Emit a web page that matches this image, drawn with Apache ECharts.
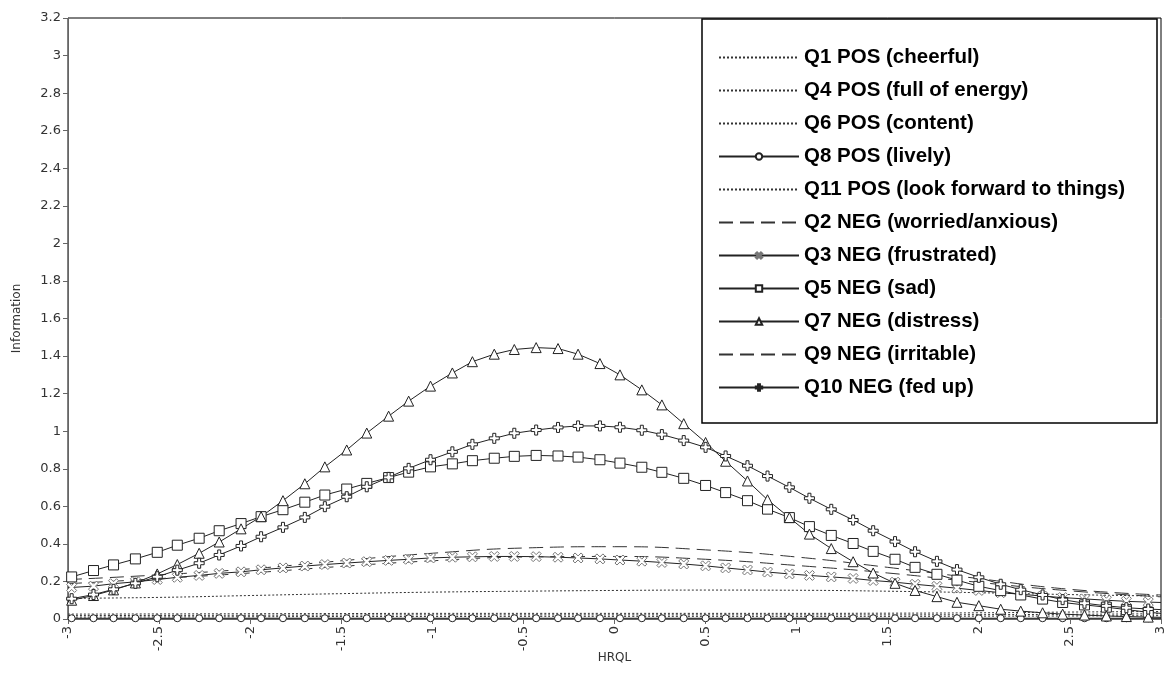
<!DOCTYPE html>
<html>
<head>
<meta charset="utf-8">
<title>Information by HRQL</title>
<script src="https://cdn.jsdelivr.net/npm/echarts@6/dist/echarts.min.js"></script>
<style>
  html, body { margin: 0; padding: 0; background: #fff; }
  #main { width: 1172px; height: 677px; }
</style>
</head>
<body>
<div id="main"></div>
<script>
// HRQL values where the markers sit (first and last entries are the axis ends, drawn without marker)
var thetaMarks = [-3, -2.98, -2.86, -2.75, -2.63, -2.51, -2.40, -2.28, -2.17, -2.05, -1.94,
  -1.82, -1.70, -1.59, -1.47, -1.36, -1.24, -1.13, -1.01, -0.89, -0.78,
  -0.66, -0.55, -0.43, -0.31, -0.20, -0.08, 0.03, 0.15, 0.26, 0.38,
  0.50, 0.61, 0.73, 0.84, 0.96, 1.07, 1.19, 1.31, 1.42, 1.54,
  1.65, 1.77, 1.88, 2.00, 2.12, 2.23, 2.35, 2.46, 2.58, 2.70,
  2.81, 2.93, 3]
// HRQL values for the plain dashed / dotted curves
var thetaCoarse = [-3, -2.5, -2, -1.5, -1, -0.5, 0, 0.5, 1, 1.5, 2, 2.5, 3]

// item information, marker series
var q7Distress = [0.097, 0.100, 0.125, 0.155, 0.192, 0.24, 0.29, 0.35, 0.41, 0.48, 0.545,
  0.63, 0.72, 0.81, 0.90, 0.99, 1.08, 1.16, 1.24, 1.31, 1.37,
  1.41, 1.435, 1.445, 1.44, 1.41, 1.36, 1.30, 1.22, 1.14, 1.04,
  0.94, 0.84, 0.735, 0.635, 0.54, 0.452, 0.375, 0.305, 0.245, 0.19,
  0.152, 0.119, 0.089, 0.071, 0.052, 0.042, 0.033, 0.026, 0.021, 0.016,
  0.013, 0.010, 0.009]
var q5Sad = [0.218, 0.224, 0.258, 0.288, 0.32, 0.355, 0.393, 0.43, 0.47, 0.508, 0.545,
  0.582, 0.622, 0.66, 0.692, 0.722, 0.753, 0.782, 0.81, 0.826, 0.843,
  0.856, 0.866, 0.871, 0.868, 0.862, 0.848, 0.83, 0.808, 0.781, 0.749,
  0.711, 0.673, 0.63, 0.585, 0.54, 0.492, 0.445, 0.402, 0.36, 0.318,
  0.275, 0.238, 0.207, 0.174, 0.151, 0.128, 0.106, 0.088, 0.075, 0.063,
  0.05, 0.036, 0.03]
var q10FedUp = [0.10, 0.108, 0.13, 0.158, 0.19, 0.225, 0.26, 0.297, 0.341, 0.389, 0.438,
  0.488, 0.541, 0.598, 0.651, 0.704, 0.754, 0.802, 0.848, 0.89, 0.93,
  0.962, 0.989, 1.006, 1.02, 1.028, 1.028, 1.021, 1.005, 0.982, 0.95,
  0.914, 0.868, 0.816, 0.761, 0.701, 0.643, 0.584, 0.527, 0.47, 0.412,
  0.358, 0.307, 0.263, 0.222, 0.185, 0.156, 0.128, 0.103, 0.084, 0.07,
  0.06, 0.053, 0.05]
var q3Frustrated = [0.166, 0.168, 0.175, 0.188, 0.198, 0.21, 0.222, 0.232, 0.243, 0.251, 0.262,
  0.272, 0.282, 0.29, 0.298, 0.305, 0.312, 0.318, 0.325, 0.329, 0.331,
  0.333, 0.333, 0.332, 0.329, 0.325, 0.32, 0.314, 0.308, 0.301, 0.293,
  0.283, 0.272, 0.261, 0.25, 0.24, 0.232, 0.224, 0.216, 0.205, 0.196,
  0.185, 0.174, 0.164, 0.152, 0.14, 0.132, 0.122, 0.114, 0.107, 0.1,
  0.094, 0.09, 0.088]
var q8Lively = [0.004, 0.004, 0.004, 0.004, 0.004, 0.004, 0.004, 0.004, 0.004, 0.004, 0.004,
  0.004, 0.004, 0.004, 0.004, 0.004, 0.004, 0.004, 0.004, 0.004, 0.004,
  0.004, 0.004, 0.004, 0.004, 0.004, 0.004, 0.004, 0.004, 0.004, 0.004,
  0.004, 0.004, 0.004, 0.004, 0.004, 0.004, 0.004, 0.004, 0.004, 0.004,
  0.004, 0.004, 0.004, 0.004, 0.004, 0.004, 0.004, 0.004, 0.004, 0.004,
  0.004, 0.004, 0.004]

// item information, plain line series
var q2Worried = [0.21, 0.235, 0.267, 0.31, 0.35, 0.378, 0.385, 0.368, 0.33, 0.275, 0.215, 0.158, 0.128]
var q9Irritable = [0.188, 0.215, 0.245, 0.28, 0.31, 0.33, 0.333, 0.318, 0.285, 0.245, 0.195, 0.15, 0.118]
var q6Content = [0.11, 0.115, 0.125, 0.135, 0.143, 0.148, 0.152, 0.154, 0.153, 0.148, 0.14, 0.13, 0.122]
var q1Cheerful = [0.018, 0.019, 0.02, 0.021, 0.022, 0.022, 0.022, 0.022, 0.022, 0.022, 0.023, 0.025, 0.028]
var q4Energy = [0.01, 0.011, 0.012, 0.013, 0.013, 0.014, 0.014, 0.014, 0.014, 0.014, 0.015, 0.016, 0.018]
var q11Forward = [0.026, 0.027, 0.028, 0.029, 0.03, 0.03, 0.03, 0.03, 0.03, 0.031, 0.033, 0.037, 0.04]

var legendNames = ['Q1 POS (cheerful)', 'Q4 POS (full of energy)', 'Q6 POS (content)', 'Q8 POS (lively)',
  'Q11 POS (look forward to things)', 'Q2 NEG (worried/anxious)', 'Q3 NEG (frustrated)', 'Q5 NEG (sad)',
  'Q7 NEG (distress)', 'Q9 NEG (irritable)', 'Q10 NEG (fed up)']

// outlined marker shapes
var crossPath = 'path://M0,2 L2,0 L5,3 L8,0 L10,2 L7,5 L10,8 L8,10 L5,7 L2,10 L0,8 L3,5 Z'
var plusPath = 'path://M3.5,0 L6.5,0 L6.5,3.5 L10,3.5 L10,6.5 L6.5,6.5 L6.5,10 L3.5,10 L3.5,6.5 L0,6.5 L0,3.5 L3.5,3.5 Z'

function pairs (xs, ys) {
  return xs.map(function (x, i) { return [x, ys[i]] })
}

function markerSeries (name, ys, symbol, size, stroke) {
  return {
    name: name,
    type: 'line',
    data: pairs(thetaMarks, ys),
    symbol: symbol,
    symbolSize: function (v) { return Math.abs(v[0]) === 3 ? 0 : size },
    color: '#222',
    lineStyle: { color: '#222', width: 1 },
    itemStyle: { color: '#fff', borderColor: stroke, borderWidth: 1 },
    silent: true,
    z: 2
  }
}

// no markers: the symbol is kept only so that the legend icon is an invisible one
function plainSeries (name, ys, dash) {
  return {
    name: name,
    type: 'line',
    data: pairs(thetaCoarse, ys),
    smooth: true,
    symbol: 'circle',
    showSymbol: false,
    color: '#333',
    lineStyle: { color: '#333', width: 1, type: dash },
    itemStyle: { color: 'rgba(0,0,0,0)', borderWidth: 0 },
    silent: true,
    z: 2
  }
}

var dotted = [2, 2]
var dashed = [14, 7]

var axisFont = { fontFamily: 'DejaVu Sans', fontSize: 13, color: '#333' }

var option = {
  animation: false,
  backgroundColor: '#fff',
  grid: {
    left: 68, right: 11, top: 18, bottom: 58,
    outerBoundsMode: 'none',
    containLabel: false,
    show: true, borderColor: '#000', borderWidth: 1
  },
  xAxis: {
    type: 'value',
    min: -3,
    max: 3,
    interval: 0.5,
    name: 'HRQL',
    nameLocation: 'middle',
    nameGap: 33,
    nameMoveOverlap: false,
    nameTextStyle: { fontFamily: 'DejaVu Sans', fontSize: 12, color: '#333' },
    axisLine: { onZero: false, lineStyle: { color: '#666' } },
    axisTick: { length: 5, lineStyle: { color: '#666' } },
    axisLabel: Object.assign({ rotate: 90, margin: 7 }, axisFont),
    splitLine: { show: false }
  },
  yAxis: {
    type: 'value',
    min: 0,
    max: 3.2,
    interval: 0.2,
    name: 'Information',
    nameLocation: 'middle',
    nameGap: 45,
    nameMoveOverlap: false,
    nameTextStyle: { fontFamily: 'DejaVu Sans', fontSize: 12, color: '#333' },
    axisLine: { show: true, onZero: false, lineStyle: { color: '#666' } },
    axisTick: { show: true, length: 5, lineStyle: { color: '#666' } },
    axisLabel: Object.assign({ margin: 7 }, axisFont),
    splitLine: { show: false }
  },
  graphic: [{
    type: 'rect',
    z: 3,
    shape: { x: 702, y: 19, width: 455, height: 404 },
    style: { fill: '#fff', stroke: '#000', lineWidth: 1.5 }
  }],
  legend: {
    orient: 'vertical',
    left: 718,
    top: 47,
    padding: 0,
    itemWidth: 80,
    itemHeight: 8,
    itemGap: 12,
    selectedMode: false,
    z: 4,
    textStyle: { fontFamily: 'Liberation Sans', fontWeight: 'bold', fontSize: 20.5, lineHeight: 20, color: '#000' },
    data: legendNames
  },
  series: [
    plainSeries(legendNames[0], q1Cheerful, dotted),
    plainSeries(legendNames[1], q4Energy, dotted),
    plainSeries(legendNames[2], q6Content, dotted),
    markerSeries(legendNames[3], q8Lively, 'circle', 7, '#222'),
    plainSeries(legendNames[4], q11Forward, dotted),
    plainSeries(legendNames[5], q2Worried, dashed),
    markerSeries(legendNames[6], q3Frustrated, crossPath, 10, '#777'),
    markerSeries(legendNames[7], q5Sad, 'rect', 10, '#222'),
    markerSeries(legendNames[8], q7Distress, 'triangle', 10, '#222'),
    plainSeries(legendNames[9], q9Irritable, dashed),
    markerSeries(legendNames[10], q10FedUp, plusPath, 10, '#222')
  ]
}

var myChart = echarts.init(document.getElementById('main'))
myChart.setOption(option)
</script>
</body>
</html>
